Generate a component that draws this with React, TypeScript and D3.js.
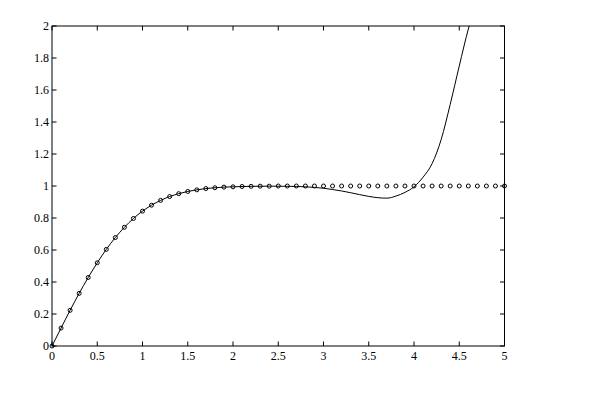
import React from "react";
import * as d3 from "d3";

const circleX = d3.range(0, 51).map((i) => i / 10);
const circleY = [
  0, 0.112, 0.223, 0.329, 0.428, 0.52, 0.604, 0.678, 0.742, 0.797,
  0.843, 0.88, 0.91, 0.934, 0.952, 0.966, 0.976, 0.984, 0.989, 0.993,
  0.995, 0.997, 0.998, 0.999, 0.999, 1, 1, 1, 1, 1,
  1, 1, 1, 1, 1, 1, 1, 1, 1, 1,
  1, 1, 1, 1, 1, 1, 1, 1, 1, 1, 1,
];

const lineX = [
  0, 0.1, 0.2, 0.3, 0.4, 0.5, 0.6, 0.7, 0.8, 0.9, 1.0, 1.1, 1.2, 1.3, 1.4,
  1.5, 1.6, 1.7, 1.8, 1.9, 2.0, 2.2, 2.4, 2.6, 2.8, 2.9, 3.0, 3.1, 3.2, 3.3,
  3.4, 3.5, 3.6, 3.7, 3.8, 3.9, 4.0, 4.1, 4.2, 4.3, 4.4, 4.5, 4.6, 4.62,
];
const lineY = [
  0, 0.112, 0.223, 0.329, 0.428, 0.52, 0.604, 0.678, 0.742, 0.797, 0.843,
  0.88, 0.91, 0.934, 0.952, 0.966, 0.976, 0.984, 0.989, 0.993, 0.995, 0.998,
  0.999, 0.998, 0.995, 0.991, 0.986, 0.978, 0.969, 0.958, 0.946, 0.935,
  0.927, 0.924, 0.937, 0.96, 0.995, 1.055, 1.14, 1.29, 1.51, 1.75, 1.98, 2.02,
];

const xTicks = [0, 0.5, 1, 1.5, 2, 2.5, 3, 3.5, 4, 4.5, 5];
const yTicks = [0, 0.2, 0.4, 0.6, 0.8, 1, 1.2, 1.4, 1.6, 1.8, 2];

export default function App() {
  const W = 600, H = 403;
  const L = 52, R = 504.5, T = 26, B = 346;
  const x = d3.scaleLinear().domain([0, 5]).range([L, R]);
  const y = d3.scaleLinear().domain([0, 2]).range([B, T]);
  const tk = 4.5;
  const font = "'Liberation Serif', serif";

  const pts = lineX.map((v, i) => [v, lineY[i]] as [number, number]);
  const line = d3
    .line<[number, number]>()
    .x((d) => x(d[0]))
    .y((d) => y(d[1]))
    .curve(d3.curveMonotoneX)(pts);

  return (
    <svg
      width={W}
      height={H}
      style={{ position: "absolute", left: 0, top: 0, background: "#fff" }}
    >
      <defs>
        <clipPath id="clip">
          <rect x={L} y={T} width={R - L} height={B - T} />
        </clipPath>
      </defs>
      <path
        d={line || ""}
        fill="none"
        stroke="#000"
        strokeWidth={1}
        clipPath="url(#clip)"
      />
      {circleX.map((cx, i) => (
        <circle
          key={i}
          cx={x(cx)}
          cy={y(circleY[i])}
          r={2}
          fill="none"
          stroke="#000"
          strokeWidth={1}
        />
      ))}
      <rect
        x={L}
        y={T}
        width={R - L}
        height={B - T}
        fill="none"
        stroke="#000"
        strokeWidth={1}
      />
      {xTicks.map((t) => (
        <g key={"x" + t}>
          <line x1={x(t)} x2={x(t)} y1={B} y2={B - tk} stroke="#000" />
          <line x1={x(t)} x2={x(t)} y1={T} y2={T + tk} stroke="#000" />
          <text
            x={x(t)}
            y={B + 14}
            textAnchor="middle"
            fontFamily={font}
            fontSize={12}
            fill="#000"
          >
            {String(t)}
          </text>
        </g>
      ))}
      {yTicks.map((t) => (
        <g key={"y" + t}>
          <line x1={L} x2={L + tk} y1={y(t)} y2={y(t)} stroke="#000" />
          <line x1={R} x2={R - tk} y1={y(t)} y2={y(t)} stroke="#000" />
          <text
            x={L - 3}
            y={y(t) + 4}
            textAnchor="end"
            fontFamily={font}
            fontSize={12}
            fill="#000"
          >
            {String(t)}
          </text>
        </g>
      ))}
    </svg>
  );
}
